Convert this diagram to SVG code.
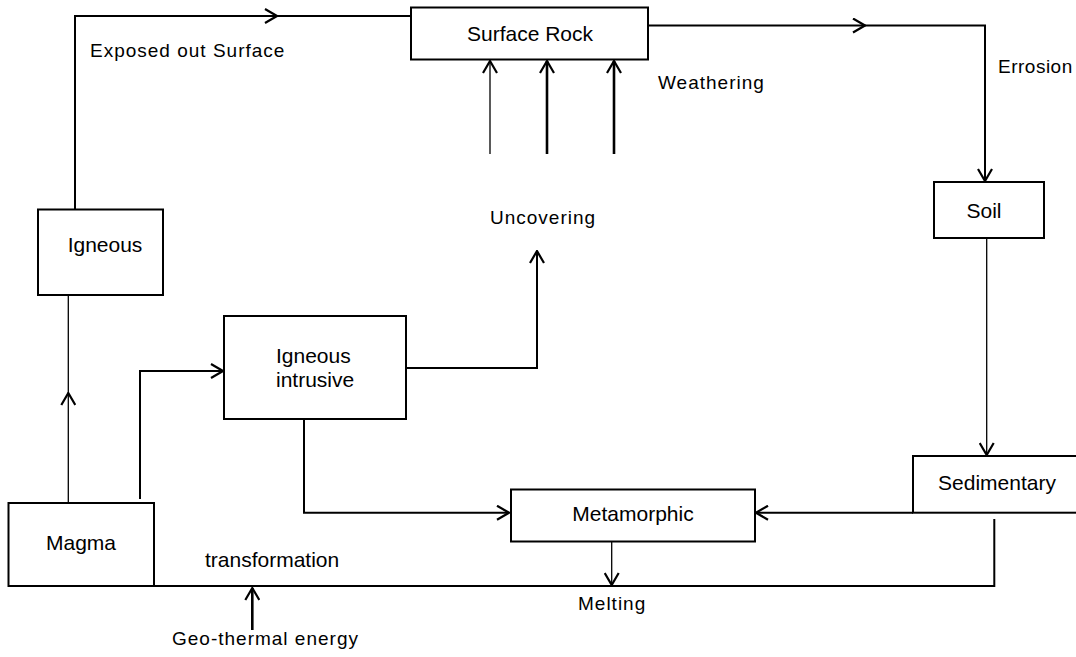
<svg xmlns="http://www.w3.org/2000/svg" width="1076" height="657" viewBox="0 0 1076 657">
<style>
  .box { fill: #fff; stroke: #000; stroke-width: 2; }
  .lbl { font-family: "Liberation Sans", Arial, sans-serif; font-size: 21px; fill: #000; }
  .mid { text-anchor: middle; }
  .free { font-family: "Liberation Sans", Arial, sans-serif; font-size: 19px; letter-spacing: 1px; fill: #000; }
  .ln { fill: none; stroke: #000; stroke-width: 2; }
  .thin { fill: none; stroke: #000; stroke-width: 1.3; }
  .thick { fill: none; stroke: #000; stroke-width: 2.6; }
  .arr { marker-end: url(#chev); }
</style>
<defs>
  <marker id="chev" viewBox="-1 -1 14 16" refX="12" refY="7" markerWidth="14" markerHeight="16" orient="auto" markerUnits="userSpaceOnUse">
    <path d="M0,0 L12,7 L0,14" fill="none" stroke="#000" stroke-width="2.2"/>
  </marker>
</defs>
<rect width="1076" height="657" fill="#fff"/>

<g id="connectors">
  <path class="ln arr" d="M75,209 V16 H277"/>
  <path class="ln" d="M277,16 H411"/>
  <path class="ln arr" d="M648,25.5 H865"/>
  <path class="ln arr" d="M865,25.5 H985 V181"/>
  <path class="thin arr" d="M490,154 V61"/>
  <path class="thick arr" d="M547,154 V61"/>
  <path class="thick arr" d="M614,154 V61"/>
  <path class="thin arr" d="M986.7,238 V455"/>
  <path class="ln arr" d="M913,512.7 H756"/>
  <path class="ln arr" d="M406,368 H537 V251"/>
  <path class="ln arr" d="M304,419 V512.7 H509"/>
  <path class="ln arr" d="M140,499 V371 H223"/>
  <path class="thin arr" d="M68.3,503 V393"/>
  <path class="thin" d="M68.3,393 V295"/>
  <path class="ln" d="M154,586 H994.3 V519"/>
  <path class="thin arr" d="M611.7,542 V585"/>
  <path class="thick arr" d="M252.3,630 V588"/>
</g>

<g id="surface-rock">
  <rect class="box" x="411" y="7.5" width="237" height="52"/>
  <text class="lbl mid" x="530" y="41">Surface Rock</text>
</g>
<g id="soil">
  <rect class="box" x="934" y="182" width="110" height="56"/>
  <text class="lbl mid" x="984" y="218">Soil</text>
</g>
<g id="igneous">
  <rect class="box" x="38" y="209.5" width="125" height="85.5"/>
  <text class="lbl mid" x="105" y="252">Igneous</text>
</g>
<g id="igneous-intrusive">
  <rect class="box" x="224" y="316" width="182" height="103"/>
  <text class="lbl" x="276" y="363">Igneous</text>
  <text class="lbl" x="276" y="387">intrusive</text>
</g>
<g id="magma">
  <rect class="box" x="8.5" y="503" width="145.5" height="83"/>
  <text class="lbl mid" x="81" y="550">Magma</text>
</g>
<g id="metamorphic">
  <rect class="box" x="511" y="489.5" width="244" height="52"/>
  <text class="lbl mid" x="633" y="521">Metamorphic</text>
</g>
<g id="sedimentary">
  <rect class="box" x="913" y="456" width="170" height="56.7"/>
  <text class="lbl mid" x="997" y="490">Sedimentary</text>
</g>

<g id="labels">
  <text class="free" x="90" y="57">Exposed out Surface</text>
  <text class="free" x="658" y="89">Weathering</text>
  <text class="free" x="998" y="73" style="letter-spacing:0.5px">Errosion</text>
  <text class="free" x="490" y="224">Uncovering</text>
  <text class="lbl" x="205" y="567">transformation</text>
  <text class="free" x="578" y="610">Melting</text>
  <text class="free" x="172" y="645">Geo-thermal energy</text>
</g>
</svg>
